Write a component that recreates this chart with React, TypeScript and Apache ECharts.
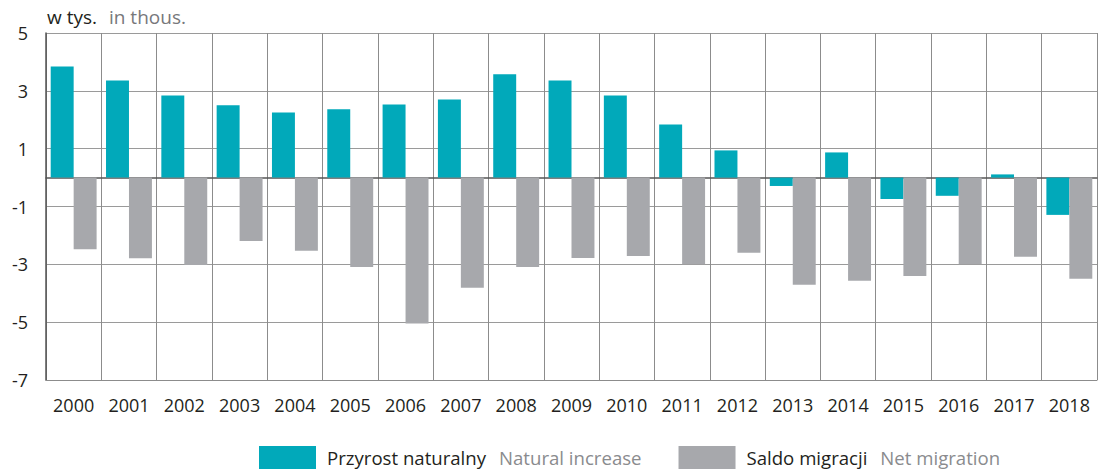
import React, { useEffect, useRef } from 'react';
import * as echarts from 'echarts';

const years = ['2000', '2001', '2002', '2003', '2004', '2005', '2006', '2007', '2008', '2009', '2010', '2011', '2012', '2013', '2014', '2015', '2016', '2017', '2018'];
const naturalIncrease = [3.84, 3.36, 2.84, 2.5, 2.25, 2.36, 2.53, 2.7, 3.57, 3.36, 2.84, 1.84, 0.94, -0.29, 0.87, -0.74, -0.63, 0.11, -1.29];
const netMigration = [-2.48, -2.79, -3.02, -2.19, -2.53, -3.09, -5.05, -3.81, -3.09, -2.78, -2.71, -3.0, -2.6, -3.71, -3.57, -3.4, -3.0, -2.74, -3.5];
const yTicks = [-7, -5, -3, -1, 1, 3, 5];

const seriesNames = ['Przyrost naturalny', 'Saldo migracji'];
const seriesNamesEn = ['Natural increase', 'Net migration'];
const unitPl = 'w tys.';
const unitEn = 'in thous.';

const FONT = '"Open Sans", sans-serif';
const TEAL = '#01a9ba';
const GRAY = '#a7a8ac';

export default function App() {
  const ref = useRef<HTMLDivElement>(null);
  useEffect(() => {
    if (!ref.current) return;
    const chart = echarts.init(ref.current, null, { renderer: 'svg' });
    chart.setOption({
      animation: false,
      backgroundColor: '#ffffff',
      textStyle: { fontFamily: FONT },
      title: {
        left: 42,
        top: 2,
        text: `{a|${unitPl}}{b|${unitEn}}`,
        textStyle: {
          fontWeight: 'normal',
          rich: {
            a: { fontFamily: FONT, fontSize: 19, fontWeight: 'normal', color: '#231f20' },
            b: { fontFamily: FONT, fontSize: 19, fontWeight: 'normal', color: '#77787b', padding: [0, 0, 0, 12] },
          },
        },
      },
      legend: {
        left: 259,
        top: 446,
        padding: 0,
        itemWidth: 57,
        itemHeight: 23,
        itemGap: 37,
        icon: 'rect',
        data: seriesNames,
        formatter: (name: string) => {
          const i = seriesNames.indexOf(name);
          return `{a|${name}}{b|${seriesNamesEn[i]}}`;
        },
        textStyle: {
          rich: {
            a: { fontFamily: FONT, fontSize: 18.6, lineHeight: 23, color: '#231f20', padding: [0, 0, 0, 6] },
            b: { fontFamily: FONT, fontSize: 18.6, lineHeight: 23, color: '#8a8b8e', padding: [0, 0, 0, 13] },
          },
        },
      },
      grid: { left: 46, right: 1, top: 33, bottom: 90, containLabel: false },
      xAxis: [
        {
          type: 'category',
          data: years,
          position: 'bottom',
          axisLine: { show: true, onZero: false, lineStyle: { color: '#8c8c8c', width: 1 } },
          axisTick: { show: false },
          axisLabel: { fontFamily: FONT, fontSize: 18, color: '#231f20', margin: 16 },
          splitLine: { show: true, interval: 0, lineStyle: { color: '#8c8c8c', width: 1 } },
        },
        {
          type: 'category',
          data: years,
          position: 'top',
          axisLine: { show: true, onZero: true, lineStyle: { color: '#555555', width: 1.5 } },
          axisTick: { show: false },
          axisLabel: { show: false },
          splitLine: { show: false },
        },
      ],
      yAxis: {
        type: 'value',
        min: -7,
        max: 5,
        axisLine: { show: true, lineStyle: { color: '#555555', width: 1.5 } },
        axisTick: { show: false, customValues: yTicks },
        axisLabel: {
          customValues: yTicks,
          fontFamily: FONT,
          fontSize: 18,
          color: '#231f20',
          margin: 18,
        },
        splitLine: { show: true, lineStyle: { color: '#9a9a9a', width: 1 } },
      },
      series: [
        {
          name: seriesNames[0],
          type: 'bar',
          data: naturalIncrease,
          itemStyle: { color: TEAL },
          barGap: '0%',
          barCategoryGap: '17%',
        },
        {
          name: seriesNames[1],
          type: 'bar',
          data: netMigration,
          itemStyle: { color: GRAY },
          barGap: '0%',
          barCategoryGap: '17%',
        },
      ],
    });
    return () => chart.dispose();
  }, []);
  return (
    <div
      ref={ref}
      style={{ position: 'fixed', left: 0, top: 0, width: 1098, height: 470 }}
    />
  );
}
